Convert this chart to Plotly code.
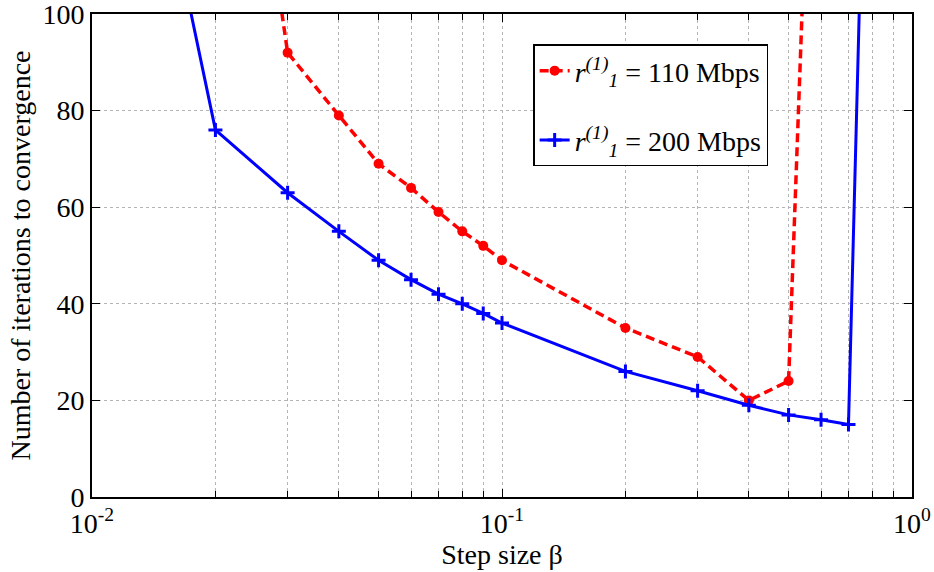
import plotly.graph_objects as go

# Data
beta_110 = [0.02, 0.03, 0.04, 0.05, 0.06, 0.07, 0.08, 0.09, 0.1, 0.2, 0.3, 0.4, 0.5, 0.6]
iters_110 = [195, 92, 79, 69, 64, 59, 55, 52, 49, 35, 29, 20, 24, 208]

beta_200 = [0.01, 0.02, 0.03, 0.04, 0.05, 0.06, 0.07, 0.08, 0.09, 0.1, 0.2, 0.3, 0.4, 0.5, 0.6, 0.7, 0.8]
iters_200 = [198, 76, 63, 55, 49, 45, 42, 40, 38, 36, 26, 22, 19, 17, 16, 15, 204]

x_tickvals = [0.01, 0.1, 1]
x_ticktext = ["10<sup>-2</sup>", "10<sup>-1</sup>", "10<sup>0</sup>"]
y_tickvals = [0, 20, 40, 60, 80, 100]

FONT = "Liberation Serif"
FS = 28

fig = go.Figure()
fig.add_trace(go.Scatter(
    x=beta_110, y=iters_110, mode="lines+markers",
    name="<i>r</i><sup><i>(1)</i></sup><sub><i>1</i></sub> = 110 Mbps",
    legendgroup="a",
    line=dict(color="#ff0000", width=3.5, dash="9px,5px"),
    marker=dict(symbol="circle", size=10, color="#ff0000"),
))
fig.add_trace(go.Scatter(
    x=beta_200, y=iters_200, mode="lines+markers",
    name="<i>r</i><sup><i>(1)</i></sup><sub><i>1</i></sub> = 200 Mbps",
    legendgroup="b",
    line=dict(color="#0000ff", width=3),
    marker=dict(symbol="cross-thin", size=10, color="#0000ff",
                line=dict(color="#0000ff", width=3)),
))

grid_col = "#b4b4b4"
fig.update_layout(
    width=934, height=572,
    margin=dict(l=92, r=22, t=14, b=75, autoexpand=False),
    paper_bgcolor="white", plot_bgcolor="white",
    font=dict(family=FONT, size=FS, color="black"),
    showlegend=True,
    legend=dict(
        x=0.538, y=0.937, xanchor="left", yanchor="top",
        bgcolor="white", bordercolor="black", borderwidth=1.5,
        font=dict(family=FONT, size=FS, color="black"),
        tracegroupgap=30, itemwidth=30,
    ),
    xaxis=dict(
        type="log", range=[-2, 0],
        tickvals=x_tickvals, ticktext=x_ticktext,
        ticks="inside", ticklen=8, tickwidth=1, tickcolor="black",
        showline=True, linecolor="black", linewidth=2, mirror="ticks",
        showgrid=True, gridcolor=grid_col, griddash="dot", gridwidth=1,
        minor=dict(dtick="D1", ticks="inside", ticklen=6, tickcolor="black",
                   showgrid=True, gridcolor=grid_col, griddash="dot", gridwidth=1),
        zeroline=False, automargin=False, ticklabeloverflow="allow",
        title=dict(text="Step size β", standoff=2, font=dict(family=FONT, size=FS)),
        tickfont=dict(family=FONT, size=FS),
    ),
    yaxis=dict(
        range=[0, 100], tickvals=y_tickvals,
        ticks="inside", ticklen=8, tickwidth=1, tickcolor="black",
        showline=True, linecolor="black", linewidth=2, mirror="ticks",
        showgrid=True, gridcolor=grid_col, griddash="dot", gridwidth=1,
        zeroline=False, automargin=False, ticklabelstandoff=0,
        ticklabeloverflow="allow",
        title=dict(text="Number of iterations to convergence", standoff=4,
                   font=dict(family=FONT, size=FS)),
        tickfont=dict(family=FONT, size=FS),
    ),
)

fig.write_html("out.html")
